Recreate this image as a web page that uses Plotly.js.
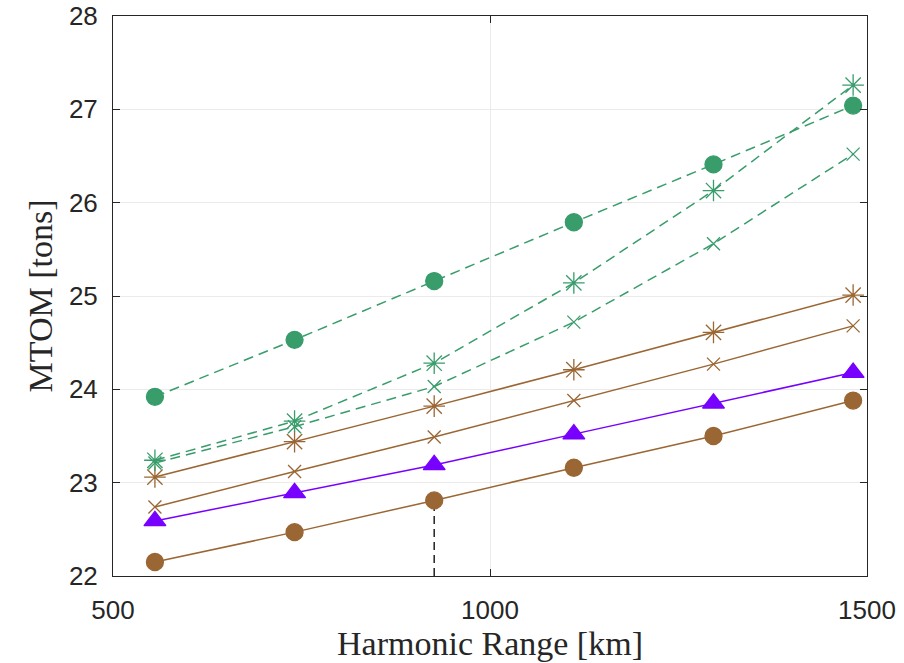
<!DOCTYPE html>
<html>
<head>
<meta charset="utf-8">
<script src="https://cdn.plot.ly/plotly-3.0.1.min.js"></script>
<style>html,body{margin:0;padding:0;background:#fff;}#chart{width:904px;height:663px;}</style>
</head>
<body>
<div id="chart"></div>
<script>
const rangeKm = [555.6, 740.8, 926, 1111.2, 1296.4, 1481.6];
const greenCircle = [23.92, 24.53, 25.16, 25.79, 26.41, 27.04];
const greenAsterisk = [23.24, 23.66, 24.28, 25.14, 26.13, 27.26];
const greenCross = [23.21, 23.60, 24.03, 24.72, 25.56, 26.52];
const brownAsterisk = [23.06, 23.44, 23.82, 24.21, 24.61, 25.01];
const brownCross = [22.74, 23.12, 23.49, 23.88, 24.27, 24.68];
const purpleTriangle = [22.59, 22.89, 23.19, 23.52, 23.85, 24.18];
const brownCircle = [22.15, 22.47, 22.81, 23.16, 23.50, 23.88];
const markerX = [926, 926];
const markerY = [22, 22.81];
const xTicks = [500, 1000, 1500];
const yTicks = [22, 23, 24, 25, 26, 27, 28];

const green = '#389C6B';
const brown = '#9A6633';
const purple = '#7700FF';

function tr(y, color, dash, symbol, size) {
  return {
    x: rangeKm, y: y, type: 'scatter', mode: 'lines+markers',
    line: {color: color, width: 1.5, dash: dash},
    marker: {symbol: symbol, size: size, color: color, line: {color: color, width: 1.3}},
    hoverinfo: 'skip'
  };
}

const traces = [
  {x: markerX, y: markerY, type: 'scatter', mode: 'lines', line: {color: '#222', width: 1.5, dash: '8px,5px'}, hoverinfo: 'skip'},
  tr(brownCircle, brown, 'solid', 'circle', 17),
  tr(purpleTriangle, purple, 'solid', 'triangle-up', 19),
  tr(brownCross, brown, 'solid', 'x-thin-open', 13),
  tr(brownAsterisk, brown, 'solid', 'asterisk-open', 18),
  tr(greenCross, green, '10px,6px', 'x-thin-open', 13),
  tr(greenAsterisk, green, '10px,6px', 'asterisk-open', 18),
  tr(greenCircle, green, '10px,6px', 'circle', 17)
];

const axisCommon = {
  showline: true, linecolor: '#262626', linewidth: 1, mirror: 'allticks',
  ticks: 'inside', ticklen: 7, tickcolor: '#262626', tickwidth: 1,
  showgrid: true, gridcolor: '#ebebeb', gridwidth: 1, zeroline: false,
  tickfont: {family: 'Liberation Sans, Arial, sans-serif', size: 26, color: '#262626'}
};

const titleFont = {family: 'Liberation Serif, serif', size: 34, color: '#262626'};

const layout = {
  width: 904, height: 663,
  margin: {l: 113, r: 37, t: 16, b: 87},
  paper_bgcolor: '#fff', plot_bgcolor: '#fff',
  showlegend: false,
  xaxis: Object.assign({}, axisCommon, {
    range: [500, 1500], tickvals: xTicks, ticktext: xTicks.map(String), ticklabelstandoff: 11,
    title: {text: 'Harmonic Range [km]', font: titleFont, standoff: 0}
  }),
  yaxis: Object.assign({}, axisCommon, {
    range: [22, 28], tickvals: yTicks, ticktext: yTicks.map(String), ticklabelstandoff: 9,
    title: {text: 'MTOM [tons]', font: titleFont, standoff: 5}
  })
};

Plotly.newPlot('chart', traces, layout, {displayModeBar: false, staticPlot: true});
</script>
</body>
</html>
